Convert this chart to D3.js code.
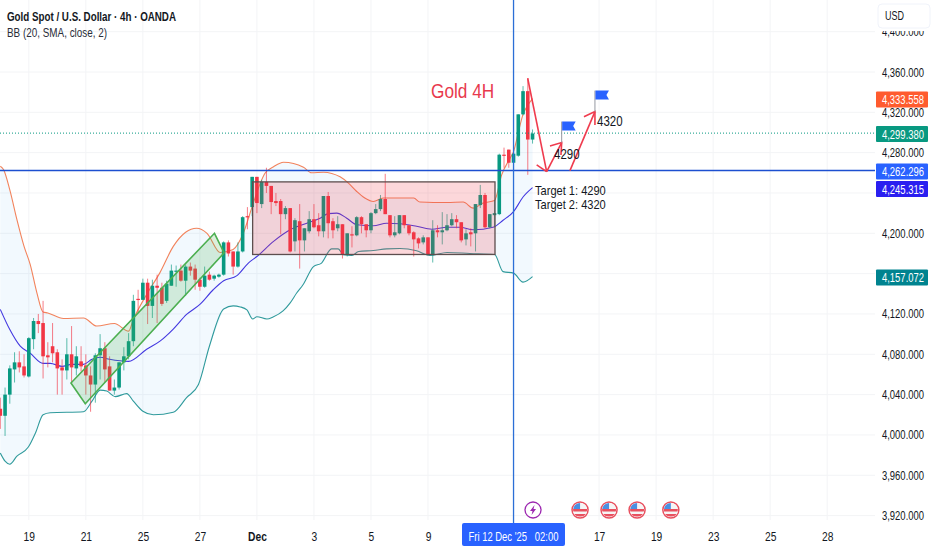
<!DOCTYPE html>
<html>
<head>
<meta charset="utf-8">
<script src="https://cdn.jsdelivr.net/npm/d3@7"></script>
<style>
  html, body { margin: 0; padding: 0; background: #fff; }
  svg { display: block; }
  text { font-family: "Liberation Sans", sans-serif; fill: #131722; }
</style>
</head>
<body>
<div id="container"></div>
<script>
const open = [4026,4019,4040,4065,4072,4068,4058,4095,4113,4111,4079,4088,4082,4067,4064,4080,4066,4073,4069,4059,4050,4079,4086,4068,4044,4047,4072,4078,4093,4135,4134,4151,4128,4148,4146,4133,4148,4162,4163,4153,4167,4165,4154,4147,4159,4155,4157,4159,4191,4182,4167,4182,4217,4226,4256,4229,4251,4247,4232,4232,4219,4225,4192,4212,4193,4202,4214,4208,4202,4237,4212,4205,4209,4179,4199,4198,4216,4209,4203,4220,4224,4234,4218,4198,4200,4218,4208,4201,4195,4191,4196,4179,4203,4201,4203,4208,4214,4211,4194,4201,4200,4228,4238,4206,4218,4219,4278,4283,4270,4277,4318,4341,4293];
const high = [4037,4047,4069,4082,4083,4080,4097,4116,4120,4133,4092,4111,4085,4075,4096,4108,4088,4088,4080,4068,4081,4100,4092,4078,4055,4072,4087,4101,4139,4144,4155,4155,4154,4159,4151,4153,4169,4168,4169,4169,4171,4169,4156,4167,4162,4159,4160,4192,4193,4182,4191,4217,4226,4256,4256,4253,4265,4247,4240,4234,4227,4225,4215,4229,4205,4222,4229,4220,4237,4241,4215,4217,4209,4200,4207,4217,4217,4209,4221,4229,4238,4259,4218,4217,4218,4218,4208,4202,4196,4198,4196,4213,4208,4221,4219,4220,4218,4211,4204,4205,4229,4248,4240,4219,4233,4279,4285,4283,4285,4318,4346,4354,4303];
const low = [4006,3999,4031,4052,4062,4057,4057,4085,4101,4056,4067,4072,4040,4040,4055,4052,4059,4063,4040,4023,4032,4055,4052,4044,4040,4045,4064,4075,4088,4121,4134,4110,4116,4111,4128,4131,4148,4147,4152,4138,4158,4144,4143,4146,4153,4153,4156,4158,4177,4159,4166,4181,4204,4217,4220,4225,4240,4219,4227,4199,4214,4181,4182,4165,4182,4200,4205,4197,4196,4195,4195,4202,4175,4177,4186,4197,4200,4196,4200,4219,4222,4219,4196,4196,4199,4205,4198,4177,4185,4189,4178,4171,4196,4189,4202,4207,4205,4191,4188,4187,4182,4225,4205,4205,4207,4218,4265,4265,4261,4276,4317,4258,4289];
const close = [4019,4040,4066,4072,4067,4059,4096,4113,4110,4078,4077,4081,4066,4064,4080,4067,4078,4068,4059,4050,4079,4086,4065,4044,4047,4072,4078,4093,4133,4134,4151,4128,4148,4146,4130,4150,4163,4163,4153,4167,4163,4154,4147,4158,4154,4158,4159,4191,4180,4167,4182,4216,4216,4256,4230,4251,4247,4231,4230,4219,4225,4182,4213,4193,4205,4214,4206,4202,4237,4210,4203,4209,4179,4200,4198,4216,4209,4203,4220,4224,4234,4219,4198,4201,4218,4208,4200,4194,4190,4196,4179,4203,4201,4203,4208,4214,4211,4193,4200,4199,4229,4238,4206,4219,4220,4278,4277,4270,4279,4318,4341,4293,4299];

// Bollinger bands, read as [candle index, price]
const bbUpper = [[0,4266.5],[0.7,4263],[2,4243],[3.5,4213.5],[5,4187],[6.3,4169],[7.7,4141],[9,4122],[10,4121],[13.3,4115.5],[17.5,4116],[20.3,4108],[24,4110.5],[27,4103],[28,4114.5],[31,4141],[33.6,4161],[36.4,4187],[39,4201],[41.3,4205],[43.5,4200],[46.3,4181],[49,4184],[51,4198.5],[53,4226.5],[54.7,4249.7],[55.7,4259.6],[57.5,4266],[59.6,4270.5],[63.8,4265.5],[65.5,4260],[68,4260.6],[71.5,4256],[73.2,4250],[75,4241.5],[76.7,4235],[78.5,4231.5],[80.6,4235],[87,4235],[88.3,4231],[94,4230.5],[97.4,4231],[99.5,4225],[101.6,4230],[104,4232.5],[105.5,4258],[107.2,4274],[108,4281],[109,4300],[110,4318],[111,4327],[112,4333.558]];
const bbBasis = [[0,4124.5],[2,4104.5],[4.2,4088],[6.3,4081],[9,4071],[10.5,4071],[13,4068],[15,4070],[17.5,4070],[19.3,4075],[21,4077],[23,4075],[27,4073],[30.8,4085],[33.6,4093],[36.4,4105],[39.2,4119.5],[42,4129.5],[44.8,4144],[47,4153],[49.8,4158],[52.2,4170.5],[54,4177],[57.5,4192],[61,4203.5],[64.5,4210],[67.3,4215],[69,4219.5],[70.8,4220],[72.9,4215],[75,4208.5],[78.5,4207.5],[81.3,4210],[84.1,4209.5],[87.6,4207],[90.8,4204],[94,4206],[96.7,4206],[99.5,4203.5],[103.7,4206],[105.8,4213],[108,4221.5],[110,4236],[112,4245.315]];
const bbLower = [[0,3982],[1,3974],[2,3971],[3.5,3979],[5.9,3988],[7.4,4002],[9,4020],[10.5,4022],[17.5,4023],[19.3,4033.5],[21,4044.5],[22.4,4043.5],[24.2,4038],[26.6,4041],[28,4033.5],[30,4023.5],[32.2,4020],[36.4,4022.5],[39.2,4037],[41.7,4050],[44,4088],[47,4125],[49,4128],[50.5,4127],[51.9,4124],[53.1,4115],[54,4117.3],[56.1,4115],[57.4,4117],[59.5,4123],[61,4131],[62.4,4141],[63.7,4149],[65.9,4167],[67.6,4170.5],[69.7,4184.6],[71.1,4184.6],[72.2,4178.7],[74,4178],[75.4,4182],[78.5,4183],[81.3,4184.6],[84.1,4185],[87.6,4182.7],[90.4,4178],[94,4181],[98.8,4180],[104,4179],[105.8,4162],[108,4160.5],[110,4151.6],[112,4157.072]];

const yTickLabels = [3920,3960,4000,4040,4080,4120,4200,4280,4320,4360,4400];
const yGrid = [3920,3960,4000,4040,4080,4120,4160,4200,4240,4280,4320,4360,4400];
const xTickIndex = [6,18,30,42,54,66,78,90,126,138,150,162,174];
const xTickLabels = ['19','21','25','27','Dec','3','5','9','17','19','23','25','28'];

const lastPrices = [
  { value: 4333.558, color: '#ff5b2e', y: 99.5 },
  { value: 4299.38, color: '#089981', y: 134 },
  { value: 4262.296, color: '#2962ff', y: 171.5 },
  { value: 4245.315, color: '#2a1ff0', y: 189 },
  { value: 4157.072, color: '#00838f', y: 277.5 }
];

// Drawings
const greenBox = [[14.87,4051.5],[17.88,4031],[47.1,4180.6],[45.07,4200]];
const redBox = [53.1, 104.1, 4251, 4179];
const arrowLines = [
  [[110.98,4353.8],[114.97,4261.2]],
  [[112.87,4267.8],[114.97,4261.2]],
  [[114.97,4261.2],[118.13,4290]],
  [[115.67,4286.7],[118.13,4290],[117.98,4277.7]],
  [[119.87,4262.2],[125.13,4320.7]],
  [[122.82,4315.7],[125.13,4320.7],[125.13,4307.5]]
];
const flags = [[118.13,4290],[125.13,4320.7]];
const eventFlags = [122,128.1,134,141.1];
const eventBolt = 112.1;

const width = 932;
const height = 550;
const plotRight = 875;

const x = d3.scaleLinear().domain([0, 184]).range([0.3, 874.7]);
const y = d3.scaleLinear().domain([3920, 4360]).range([515.6, 72]);

const svg = d3.select('#container').append('svg')
  .attr('width', width)
  .attr('height', height);

svg.append('defs').append('clipPath').attr('id', 'plot')
  .append('rect').attr('width', plotRight).attr('height', height);

// Grid
const grid = svg.append('g').attr('stroke', '#f3f4f6').attr('stroke-width', 1);
grid.selectAll('.h').data(yGrid).enter().append('line')
  .attr('x1', 0).attr('x2', plotRight)
  .attr('y1', d => y(d)).attr('y2', d => y(d));
grid.selectAll('.v').data(xTickIndex).enter().append('line')
  .attr('x1', d => x(d)).attr('x2', d => x(d))
  .attr('y1', 0).attr('y2', 520);

const plot = svg.append('g').attr('clip-path', 'url(#plot)');

// Bollinger bands
const line = d3.line().x(d => x(d[0])).y(d => y(d[1])).curve(d3.curveMonotoneX);
plot.append('path')
  .attr('d', line(bbUpper) + 'L' + bbLower.slice().reverse().map(d => `${x(d[0])},${y(d[1])}`).join('L') + 'Z')
  .attr('fill', 'rgba(33,150,243,0.06)');
[[bbUpper, '#f2835c'], [bbBasis, '#4338e0'], [bbLower, '#2f9a9c']].forEach(([pts, c]) => {
  plot.append('path').attr('d', line(pts))
    .attr('fill', 'none').attr('stroke', c).attr('stroke-width', 1.1);
});

// Candles
const idx = d3.range(open.length);
const candleColor = i => (close[i] >= open[i] ? '#089981' : '#f23645');
plot.selectAll('.wick').data(idx).enter().append('line')
  .attr('x1', i => x(i)).attr('x2', i => x(i))
  .attr('y1', i => y(high[i])).attr('y2', i => y(low[i]))
  .attr('stroke', candleColor).attr('stroke-opacity', 0.65);
plot.selectAll('.body').data(idx).enter().append('rect')
  .attr('x', i => x(i) - 1.8)
  .attr('width', 3.6)
  .attr('y', i => Math.min(y(open[i]), y(close[i])))
  .attr('height', i => Math.max(1.2, Math.abs(y(open[i]) - y(close[i]))))
  .attr('fill', candleColor);

// Last close line
plot.append('line')
  .attr('x1', 0).attr('x2', plotRight)
  .attr('y1', y(4299.38)).attr('y2', y(4299.38))
  .attr('stroke', '#089981').attr('stroke-width', 1).attr('stroke-dasharray', '1 2');

// Boxes
plot.append('path')
  .attr('d', d3.line().x(d => x(d[0])).y(d => y(d[1]))(greenBox) + 'Z')
  .attr('fill', 'rgba(76,175,80,0.2)')
  .attr('stroke', '#4caf50').attr('stroke-width', 1.6);
plot.append('rect')
  .attr('x', x(redBox[0])).attr('width', x(redBox[1]) - x(redBox[0]))
  .attr('y', y(redBox[2])).attr('height', y(redBox[3]) - y(redBox[2]))
  .attr('fill', 'rgba(242,54,69,0.2)')
  .attr('stroke', '#5d4e4e').attr('stroke-width', 1.3);

// Crosshair and horizontal level
svg.append('line')
  .attr('x1', 0).attr('x2', plotRight)
  .attr('y1', y(4262.296)).attr('y2', y(4262.296))
  .attr('stroke', '#1c4fd0').attr('stroke-width', 1.5);
svg.append('line')
  .attr('x1', x(108)).attr('x2', x(108))
  .attr('y1', 0).attr('y2', 523)
  .attr('stroke', '#2b6fd6').attr('stroke-width', 1.3);

// Arrows
const straight = d3.line().x(d => x(d[0])).y(d => y(d[1]));
svg.selectAll('.arrow').data(arrowLines).enter().append('path')
  .attr('d', d => straight(d))
  .attr('fill', 'none').attr('stroke', '#ef3b4e').attr('stroke-width', 1.6);

// Flags
flags.forEach(f => {
  const fx = x(f[0]);
  const fy = y(f[1]);
  svg.append('line').attr('x1', fx).attr('x2', fx).attr('y1', fy).attr('y2', fy - 21)
    .attr('stroke', '#9598a1').attr('stroke-width', 1);
  svg.append('path')
    .attr('d', `M${fx + 0.5},${fy - 21}h13.5l-2.5,4.5l2.5,4.5h-13.5Z`)
    .attr('fill', '#2962ff');
});

// Text on chart
svg.append('text').text('Gold 4H').attr('x', 431).attr('y', 98)
  .style('font-size', '21px').style('fill', '#e8394d');
[['4290', 554, 159], ['4320', 597, 126]].forEach(t => {
  svg.append('text').text(t[0]).attr('x', t[1]).attr('y', t[2]).style('font-size', '14px');
});
[['Target 1: 4290', 535, 195], ['Target 2: 4320', 535, 208.5]].forEach(t => {
  svg.append('text').text(t[0]).attr('x', t[1]).attr('y', t[2]).style('font-size', '13.5px');
});

const xAxis = svg.append('g').attr('transform', 'translate(0,529)')
  .call(d3.axisBottom(x).tickValues(xTickIndex).tickSize(0).tickPadding(3)
    .tickFormat((d, i) => xTickLabels[i]));
xAxis.select('.domain').remove();
xAxis.selectAll('text').style('font-size', '12.5px').style('font-family', null)
  .style('font-weight', (d, i) => (xTickLabels[i] === 'Dec' ? 'bold' : 'normal'));

// The reference type is narrow: squeeze every label to the same proportion
svg.selectAll('text').each(function () {
  const len = this.getComputedTextLength();
  d3.select(this).attr('lengthAdjust', 'spacingAndGlyphs').attr('textLength', len * 0.82);
});

// Price axis, labels all 42px wide
const yAxis = svg.append('g').attr('transform', 'translate(882,0)')
  .call(d3.axisRight(y).tickValues(yTickLabels).tickSize(0).tickPadding(0).tickFormat(d3.format(',.3f')));
yAxis.select('.domain').remove();
yAxis.selectAll('text').attr('x', 0)
  .attr('lengthAdjust', 'spacingAndGlyphs').attr('textLength', 42)
  .style('font-size', '12.5px').style('font-family', null);

// USD button, it hides the top of the 4,400 label
svg.append('rect').attr('x', 876).attr('y', 0).attr('width', 56).attr('height', 31).attr('fill', '#fff');
svg.append('rect').attr('x', 878).attr('y', 4).attr('width', 52).attr('height', 24).attr('rx', 4)
  .attr('fill', '#fff').attr('stroke', '#f0f3fa');
svg.append('text').text('USD').attr('x', 885).attr('y', 20)
  .attr('lengthAdjust', 'spacingAndGlyphs').attr('textLength', 19).style('font-size', '12.5px');

// Price labels
const tag = svg.selectAll('.tag').data(lastPrices).enter().append('g')
  .attr('transform', d => `translate(876,${d.y - 8})`);
tag.append('rect').attr('width', 52).attr('height', 16).attr('rx', 1).attr('fill', d => d.color);
tag.append('text').text(d => d3.format(',.3f')(d.value))
  .attr('x', 6).attr('y', 12.5)
  .attr('lengthAdjust', 'spacingAndGlyphs').attr('textLength', 42)
  .style('font-size', '12.5px').style('fill', '#fff');

// Date label
svg.append('rect').attr('x', 462).attr('y', 523).attr('width', 103).attr('height', 23).attr('rx', 2)
  .attr('fill', '#2962ff');
svg.append('text').text("Fri 12 Dec '25\u00a0\u00a0\u00a002:00").attr('x', 468.5).attr('y', 541)
  .attr('lengthAdjust', 'spacingAndGlyphs').attr('textLength', 90)
  .style('font-size', '12.5px').style('fill', '#fff');

// Title
svg.append('text').text('Gold Spot / U.S. Dollar · 4h · OANDA').attr('x', 7).attr('y', 21)
  .attr('lengthAdjust', 'spacingAndGlyphs').attr('textLength', 169)
  .style('font-size', '13.5px').style('font-weight', 'bold');
svg.append('text').text('BB (20, SMA, close, 2)').attr('x', 7).attr('y', 37)
  .attr('lengthAdjust', 'spacingAndGlyphs').attr('textLength', 100)
  .style('font-size', '13.5px').style('fill', '#2a2e39');

// Event icons
const iconY = 510;
const bolt = svg.append('g').attr('transform', `translate(${x(eventBolt)},${iconY})`);
bolt.append('circle').attr('r', 8).attr('fill', '#fff').attr('stroke', '#9c27b0').attr('stroke-width', 1.3);
bolt.append('path').attr('d', 'M1.5,-5L-3,1H-0.5L-1.5,5L3,-1H0.5Z').attr('fill', '#9c27b0');

eventFlags.forEach((e, i) => {
  const g = svg.append('g').attr('transform', `translate(${x(e)},${iconY})`);
  const id = `flagclip${i}`;
  g.append('clipPath').attr('id', id).append('circle').attr('r', 7);
  g.append('circle').attr('r', 8).attr('fill', '#fff').attr('stroke', '#e8505f').attr('stroke-width', 1.5);
  const c = g.append('g').attr('clip-path', `url(#${id})`);
  c.append('rect').attr('x', -8).attr('y', -7).attr('width', 16).attr('height', 14).attr('fill', '#f5f5f5');
  c.append('rect').attr('x', -8).attr('y', -1).attr('width', 16).attr('height', 2.5).attr('fill', '#e8505f');
  c.append('rect').attr('x', -8).attr('y', 4).attr('width', 16).attr('height', 2.5).attr('fill', '#e8505f');
  c.append('rect').attr('x', -8).attr('y', -7).attr('width', 8).attr('height', 6).attr('fill', '#4a90e2');
});
</script>
</body>
</html>
